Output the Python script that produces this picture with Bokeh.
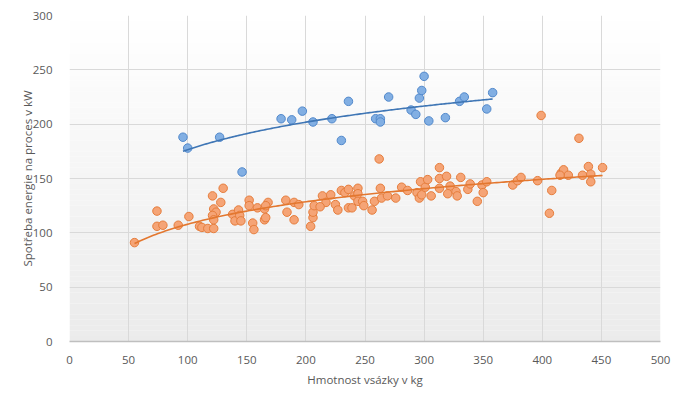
import numpy as np
from bokeh.plotting import figure
from bokeh.models import Range1d, SingleIntervalTicker
from bokeh.embed import file_html
from bokeh.resources import INLINE

# --- data ---
blue_x = [96, 100, 127, 146, 179, 188, 197, 206, 222, 230, 236, 259, 263, 263, 270,
          289, 293, 296, 298, 300, 304, 318, 330, 334, 353, 358]
blue_y = [188, 178, 188, 156, 205, 204, 212, 202, 205, 185, 221, 205, 205, 202, 225,
          213, 209, 224, 231, 244, 203, 206, 221, 225, 214, 229]

orange_x = [55, 74, 74, 79, 92, 101, 110, 112, 117, 122,
            121, 130, 128, 122, 124, 121, 122,
            138, 140, 143, 144, 145,
            152, 152, 155, 156, 159, 165, 165, 166, 168, 166,
            183, 184, 190, 194, 190,
            204, 206, 206, 207,
            214, 217, 212, 221, 225, 227,
            230, 233, 236, 236, 239, 241,
            244, 244, 244, 248, 249, 256, 258,
            262, 263, 264, 269, 276, 281, 286,
            294, 296, 297, 298, 301, 303, 306,
            313, 313, 313, 319, 322, 320, 327, 328,
            331, 337, 339, 345,
            349, 350, 353,
            375, 379, 382, 396, 399, 408, 406,
            416, 418, 422, 415, 431, 434, 439, 441, 441, 451]
orange_y = [91, 120, 106, 107, 107, 115, 106, 105, 104, 104,
            134, 141, 128, 122, 119, 116, 112,
            117, 111, 121, 116, 111,
            130, 125, 109, 103, 123, 122, 112, 114, 128, 125,
            130, 119, 128, 126, 112,
            106, 114, 119, 125,
            134, 128, 124, 135, 126, 121,
            139, 137, 140, 123, 123, 134,
            141, 136, 129, 129, 125, 121, 129,
            168, 141, 132, 134, 132, 142, 139,
            137, 132, 147, 135, 142, 149, 134,
            150, 160, 141, 152, 143, 136, 138, 134,
            151, 140, 145, 129,
            144, 137, 147,
            144, 148, 151, 148, 208, 139, 118,
            155, 158, 153, 153, 187, 153, 161, 154, 147, 160]

x_ticks_interval = 50
y_ticks_interval = 50

GRID = "#d9d9d9"
TXT = "#595959"
FONT = "Open Sans"

p = figure(width=672, height=389, output_backend="svg", toolbar_location=None,
           x_range=Range1d(0, 500), y_range=Range1d(0, 300),
           min_border_left=69, min_border_right=12, min_border_top=15,
           min_border_bottom=48)
p.outline_line_color = None
p.background_fill_color = "white"
p.border_fill_color = "white"

# subtle vertical gradient of plot area (white top -> light grey bottom)
edges = np.linspace(0, 300, 61)
cols = []
for i in range(60):
    t = (i + 0.5) / 60.0
    v = int(round(0xeb + (0xff - 0xeb) * t))
    cols.append("#%02x%02x%02x" % (v, v, v))
bg = p.quad(left=0, right=500, bottom=edges[:-1], top=edges[1:],
            fill_color=cols, line_color=None)
bg.level = "image"

# series
p.scatter(blue_x, blue_y, marker="circle", size=8.5, fill_color="#82afe3",
          line_color="#5289cc", line_width=1)
p.scatter(orange_x, orange_y, marker="circle", size=8.5, fill_color="#f5a476",
          line_color="#e67d3c", line_width=1)

# logarithmic trendlines fitted to the data
def log_fit(xs, ys):
    xs = np.asarray(xs, float)
    ys = np.asarray(ys, float)
    b, a = np.polyfit(np.log(xs), ys, 1)
    xx = np.linspace(xs.min(), xs.max(), 200)
    return xx, a + b * np.log(xx)

tx, ty = log_fit(blue_x, blue_y)
p.line(tx, ty, line_color="#3f76b5", line_width=1.6)
tx, ty = log_fit(orange_x, orange_y)
p.line(tx, ty, line_color="#e3772f", line_width=1.6)

# axes
p.xaxis.ticker = SingleIntervalTicker(interval=x_ticks_interval, num_minor_ticks=0)
p.yaxis.ticker = SingleIntervalTicker(interval=y_ticks_interval, num_minor_ticks=0)
p.xgrid.ticker = p.xaxis.ticker
p.ygrid.ticker = p.yaxis.ticker
for g in (p.xgrid, p.ygrid):
    g.grid_line_color = GRID
    g.grid_line_width = 1

for ax in (p.xaxis, p.yaxis):
    ax.major_tick_line_color = None
    ax.minor_tick_line_color = None
    ax.major_label_text_font = FONT
    ax.major_label_text_font_size = "11.5px"
    ax.major_label_text_color = TXT
    ax.axis_label_text_font = FONT
    ax.axis_label_text_font_size = "11.5px"
    ax.axis_label_text_color = TXT
    ax.axis_label_text_font_style = "normal"

p.xaxis.axis_line_color = "#bfbfbf"
p.xaxis.axis_line_width = 1.5
p.yaxis.axis_line_color = None
p.xaxis.major_label_standoff = 8
p.yaxis.major_label_standoff = 11
p.xaxis.axis_label_standoff = 5
p.yaxis.axis_label_standoff = -5

p.xaxis.axis_label = "Hmotnost vsázky v kg"
p.yaxis.axis_label = "Spotřeba energie na proces v kW"

open("out.html", "w").write(file_html(p, INLINE))
